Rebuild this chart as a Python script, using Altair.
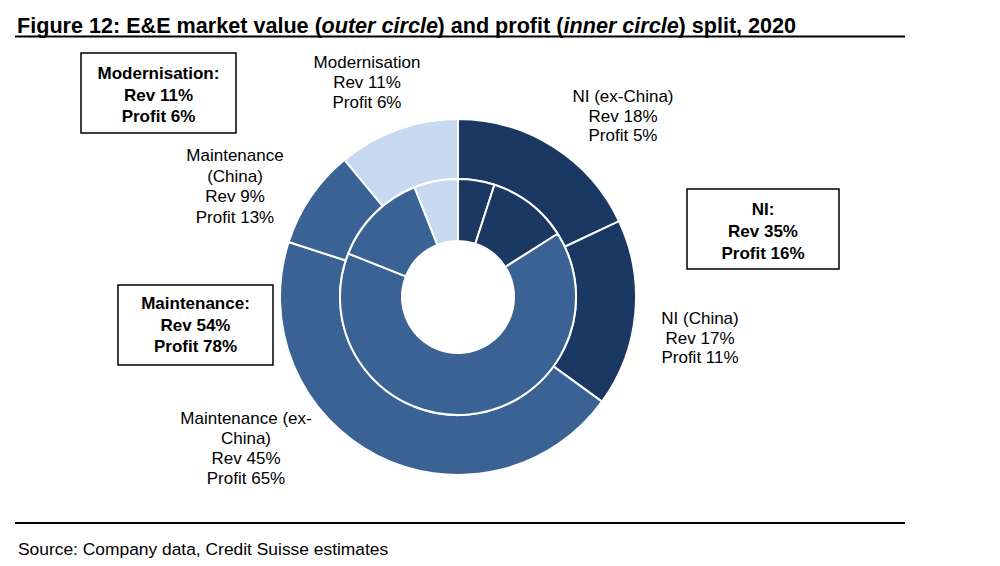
import altair as alt
import pandas as pd

# ---- data ----
segments = ["NI (ex-China)", "NI (China)", "Maintenance (ex-China)", "Maintenance (China)", "Modernisation"]
groups = ["NI", "NI", "Maintenance", "Maintenance", "Modernisation"]
revenue = [18, 17, 45, 9, 11]   # outer circle (market value split, %)
profit = [5, 11, 65, 13, 6]     # inner circle (profit split, %)

group_names = ["NI", "Maintenance", "Modernisation"]
group_revenue = [35, 54, 11]
group_profit = [16, 78, 6]

colors = ["#1b3862", "#3a6294", "#c6d9f0"]

label_heads = [["NI (ex-China)"], ["NI (China)"], ["Maintenance (ex-", "China)"],
               ["Maintenance", "(China)"], ["Modernisation"]]

title_parts = ["Figure 12: E&E market value (", "outer circle", ") and profit (",
               "inner circle", ") split, 2020"]
source_text = "Source: Company data, Credit Suisse estimates"

FONT = "Liberation Sans"
ring = pd.DataFrame({"segment": segments, "group": groups, "revenue": revenue,
                     "profit": profit, "idx": list(range(len(segments)))})
dummy = pd.DataFrame({"a": [0]})

CX, CY = 458, 297
color_enc = alt.Color("group:N", scale=alt.Scale(domain=group_names, range=colors), legend=None)

outer = alt.Chart(ring).mark_arc(radius=178, radius2=118, stroke="white", strokeWidth=2).encode(
    theta=alt.Theta("revenue:Q", stack=True),
    order=alt.Order("idx:Q"),
    color=color_enc,
    x=alt.value(CX), y=alt.value(CY),
)
inner = alt.Chart(ring).mark_arc(radius=118, radius2=56, stroke="white", strokeWidth=2).encode(
    theta=alt.Theta("profit:Q", stack=True),
    order=alt.Order("idx:Q"),
    color=color_enc,
    x=alt.value(CX), y=alt.value(CY),
)


def txt(lines, x, y, size=17, weight="normal", style="normal", align="center", lh=20):
    return alt.Chart(dummy).mark_text(
        align=align, baseline="alphabetic", fontSize=size, fontWeight=weight,
        fontStyle=style, font=FONT, lineHeight=lh, color="black"
    ).encode(x=alt.value(x), y=alt.value(y), text=alt.value(lines))


def seg_lines(i):
    return label_heads[i] + [f"Rev {revenue[i]}%", f"Profit {profit[i]}%"]


def grp_lines(j):
    return [f"{group_names[j]}:", f"Rev {group_revenue[j]}%", f"Profit {group_profit[j]}%"]


def box(x1, x2, y1, y2):
    return alt.Chart(dummy).mark_rect(fill="white", stroke="black", strokeWidth=1.5).encode(
        x=alt.value(x1), x2=alt.value(x2), y=alt.value(y1), y2=alt.value(y2))


def rule(x1, x2, y, w):
    return alt.Chart(dummy).mark_rule(color="black", strokeWidth=w).encode(
        x=alt.value(x1), x2=alt.value(x2), y=alt.value(y))


layers = [
    outer, inner,
    # segment labels
    txt(seg_lines(4), 367, 68, lh=20),
    txt(seg_lines(0), 623, 102, lh=19.5),
    txt(seg_lines(3), 235, 161, lh=20.5),
    txt(seg_lines(1), 700, 324, lh=19.5),
    txt(seg_lines(2), 246, 424, lh=20),
    # group boxes
    box(81, 236, 53, 133), txt(grp_lines(2), 158.5, 79, weight="bold", lh=21.5),
    box(687, 839, 189, 269), txt(grp_lines(0), 763, 215, weight="bold", lh=22),
    box(118, 273, 285, 365), txt(grp_lines(1), 195.5, 309, weight="bold", lh=21.5),
    # title
    txt(title_parts[0], 17, 33, size=21.6, weight="bold", align="left"),
    txt(title_parts[1], 321.5, 33, size=21.6, weight="bold", style="italic", align="left"),
    txt(title_parts[2], 437.5, 33, size=21.6, weight="bold", align="left"),
    txt(title_parts[3], 563.5, 33, size=21.6, weight="bold", style="italic", align="left"),
    txt(title_parts[4], 678.5, 33, size=21.6, weight="bold", align="left"),
    rule(15, 905, 36.5, 2),
    rule(15, 905, 523, 2),
    txt(source_text, 18, 555, size=17.4, align="left"),
]

chart = alt.layer(*layers).resolve_scale(theta="independent").properties(
    width=1000, height=566, padding=0, autosize="none", background="white"
).configure_view(strokeWidth=0)

chart.save("out.html", embed_options={"renderer": "svg", "actions": False})
